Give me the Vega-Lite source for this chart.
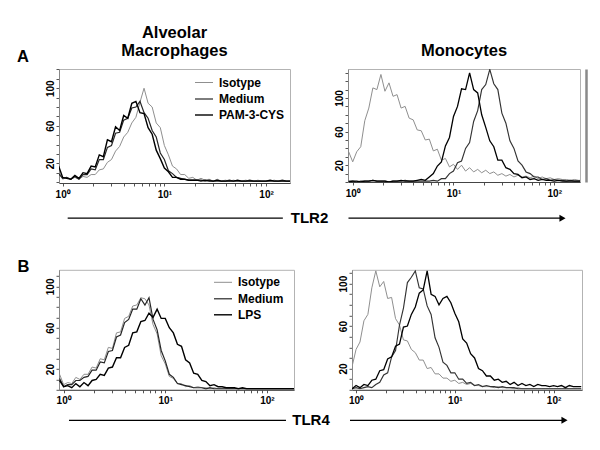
{
  "$schema": "https://vega.github.io/schema/vega-lite/v6.json",
  "padding": {"left": 16, "top": 24, "right": 5, "bottom": 5},
  "background": "white",
  "config": {
    "font": "Liberation Sans",
    "view": {"stroke": "#b3b3b3", "strokeWidth": 1},
    "axis": {"grid": false, "labelFont": "Liberation Sans", "labelFontSize": 10, "labelFontWeight": "bold", "labelColor": "#000", "tickSize": 3, "tickColor": "#555", "domainColor": "#888"},
    "title": {"font": "Liberation Sans", "fontSize": 16.5, "fontWeight": "bold", "color": "#000", "frame": "group", "lineHeight": 18, "anchor": "middle"},
    "legend": {"labelFont": "Liberation Sans", "labelFontSize": 12, "labelFontWeight": "bold", "labelColor": "#000", "symbolType": "stroke", "symbolSize": 324, "rowPadding": 0, "labelOffset": 5, "padding": 0}
  },
  "datasets": {
    "AL": [{
      "x": [0.912,1,1.096,1.202,1.318,1.445,1.585,1.738,1.905,2.089,2.291,2.512,2.754,3.02,3.311,3.631,3.981,4.365,4.786,5.248,5.754,6.31,6.918,7.586,8.318,9.12,10,10.96,12.02,13.18,14.45,15.85,17.38,19.05,20.89,22.91,25.12,27.54,30.2,33.11,36.31,39.81,43.65,47.86,52.48,57.54,63.1,69.18,75.86,83.18,91.2,100,109.6,120.2,131.8,144.5,158.5,173.8,190.5],
      "Isotype": [12,3,5,3,5,3,6,5,8,8,13,14,21,24,33,38,48,53,63,69,85,100,84,80,63,58,39,29,17,14,8,8,4,5,2,4,2,3,1,3,1,2,1,2,1,1,2,1,1,2,1,1,1,2,1,1,1,1,1],
      "Medium": [9,4,5,3,6,3,8,8,14,13,24,24,37,39,52,53,66,68,79,80,86,74,68,55,48,31,24,12,9,5,4,3,2,2,2,2,1,2,1,1,1,1,2,1,1,1,1,2,1,1,1,1,1,1,1,2,1,1,1],
      "PAM-3-CYS": [17,5,4,3,7,4,10,9,17,16,29,27,45,43,59,55,71,68,84,86,74,73,58,51,34,25,15,11,5,5,3,3,2,2,2,1,2,1,1,2,1,1,1,1,2,1,1,1,1,1,1,1,2,1,1,1,1,1,1]
    }],
    "AR": [{
      "x": [0.912,1,1.096,1.202,1.318,1.445,1.585,1.738,1.905,2.089,2.291,2.512,2.754,3.02,3.311,3.631,3.981,4.365,4.786,5.248,5.754,6.31,6.918,7.586,8.318,9.12,10,10.96,12.02,13.18,14.45,15.85,17.38,19.05,20.89,22.91,25.12,27.54,30.2,33.11,36.31,39.81,43.65,47.86,52.48,57.54,63.1,69.18,75.86,83.18,91.2,100,109.6,120.2,131.8,144.5,158.5,173.8,190.5],
      "Isotype": [36,24,36,42,73,88,112,110,128,108,118,102,104,88,90,76,74,62,61,50,51,37,39,26,28,18,21,15,20,13,17,12,15,11,14,10,12,8,10,7,9,6,8,6,7,5,7,4,6,4,5,3,4,3,3,2,3,2,2],
      "Medium": [1,1,0,1,1,1,2,1,1,1,0,1,1,1,2,1,1,1,1,1,1,2,1,4,4,10,13,23,25,40,47,72,85,110,116,134,117,110,82,70,49,40,25,20,12,10,6,6,3,4,2,3,2,2,1,2,1,1,1],
      "PAM-3-CYS": [0,1,1,0,1,1,2,1,1,1,0,1,1,2,1,1,1,2,3,2,6,10,19,24,43,53,78,90,111,110,130,110,106,80,65,49,42,26,26,17,15,10,9,5,6,3,4,2,3,2,2,1,2,1,1,1,1,1,1]
    }],
    "BL": [{
      "x": [0.912,1,1.096,1.202,1.318,1.445,1.585,1.738,1.905,2.089,2.291,2.512,2.754,3.02,3.311,3.631,3.981,4.365,4.786,5.248,5.754,6.31,6.918,7.586,8.318,9.12,10,10.96,12.02,13.18,14.45,15.85,17.38,19.05,20.89,22.91,25.12,27.54,30.2,33.11,36.31,39.81,43.65,47.86,52.48,57.54,63.1,69.18,75.86,83.18,91.2,100,109.6,120.2,131.8,144.5,158.5,173.8,190.5],
      "Isotype": [15,5,7,6,12,10,15,15,22,21,30,29,41,40,55,56,69,71,81,82,89,88,82,63,54,33,25,13,11,6,6,3,4,2,3,2,2,1,2,1,1,1,1,1,1,1,1,1,1,1,1,1,1,1,1,1,1,1,1],
      "Medium": [11,3,5,5,9,9,12,13,19,19,27,26,37,38,51,53,65,68,78,78,88,82,89,68,58,38,28,15,12,6,5,4,3,2,2,2,1,2,1,1,1,1,1,1,1,1,1,1,1,1,1,1,1,1,1,1,1,1,1],
      "LPS": [9,3,4,2,6,3,7,4,9,10,15,14,21,22,31,31,41,43,55,56,66,67,74,70,78,69,69,60,55,44,42,29,26,16,15,9,8,4,5,3,3,2,2,2,1,2,1,1,1,1,1,1,1,1,1,1,1,1,1]
    }],
    "BR": [{
      "x": [0.912,1,1.096,1.202,1.318,1.445,1.585,1.738,1.905,2.089,2.291,2.512,2.754,3.02,3.311,3.631,3.981,4.365,4.786,5.248,5.754,6.31,6.918,7.586,8.318,9.12,10,10.96,12.02,13.18,14.45,15.85,17.38,19.05,20.89,22.91,25.12,27.54,30.2,33.11,36.31,39.81,43.65,47.86,52.48,57.54,63.1,69.18,75.86,83.18,91.2,100,109.6,120.2,131.8,144.5,158.5,173.8,190.5],
      "Isotype": [22,38,45,65,71,96,112,97,102,86,87,67,61,47,46,38,35,28,28,20,21,15,15,11,11,8,9,6,7,5,6,4,4,3,3,3,2,3,2,2,2,1,2,1,1,1,1,1,1,1,1,1,1,1,1,1,1,1,1],
      "Medium": [1,2,1,2,3,2,5,7,14,16,31,37,61,77,101,106,112,96,95,79,71,49,40,26,23,16,16,10,10,6,7,4,5,3,4,3,3,2,3,2,2,2,1,1,1,1,1,1,1,1,1,1,1,1,1,1,1,1,1],
      "LPS": [1,4,2,5,4,9,10,18,19,29,31,41,43,59,60,71,78,91,94,112,90,88,80,86,88,82,72,64,48,44,34,30,20,18,13,13,9,10,7,8,5,7,4,6,4,5,3,5,4,4,3,4,3,4,2,4,3,3,3]
    }]
  },
  "vconcat": [
    {
      "vconcat": [
        {
          "hconcat": [
            {
              "width": 231, "height": 114,
              "title": {"text": ["Alveolar", "Macrophages"], "offset": -11.5},
              "data": {"name": "AL"},
              "transform": [
                {"flatten": ["x", "Isotype", "Medium", "PAM-3-CYS"]},
                {"fold": ["Isotype", "Medium", "PAM-3-CYS"], "as": ["series", "count"]}
              ],
              "mark": {"type": "line", "clip": true},
              "encoding": {
                "x": {"field": "x", "type": "quantitative", "scale": {"type": "log", "domain": [0.92, 172], "nice": false},
                  "axis": {"values": [1,2,3,4,5,6,7,8,9,10,20,30,40,50,60,70,80,90,100], "labelExpr": "datum.value == 1 ? '10⁰' : datum.value == 10 ? '10¹' : datum.value == 100 ? '10²' : ''", "labelFlush": false, "labelOverlap": false, "title": null, "domainColor": "#444", "labelPadding": 3}},
                "y": {"field": "count", "type": "quantitative", "scale": {"domain": [-1, 120.5], "nice": false, "zero": false},
                  "axis": {"values": [0,10,20,30,40,50,60,70,80,90,100,110,120], "labelExpr": "datum.value == 20 || datum.value == 60 || datum.value == 100 ? datum.label : ''", "labelAngle": -90, "labelAlign": "center", "labelBaseline": "bottom", "labelPadding": 1,
                    "title": "A", "titleAngle": 0, "titleX": -36.5, "titleY": -8, "titleAlign": "center", "titleBaseline": "alphabetic", "titleFontSize": 16.5, "titleFontWeight": "bold", "titleColor": "#000", "titleFont": "Liberation Sans"}},
                "color": {"field": "series", "type": "nominal", "scale": {"domain": ["Isotype", "Medium", "PAM-3-CYS"], "range": ["#8f8f8f", "#262626", "#000000"]},
                  "legend": {"orient": "none", "legendX": 135, "legendY": 4, "title": null}},
                "strokeWidth": {"field": "series", "type": "nominal", "scale": {"domain": ["Isotype", "Medium", "PAM-3-CYS"], "range": [1, 1.4, 3]},
                  "legend": {"orient": "none", "legendX": 135, "legendY": 4, "title": null}}
              }
            },
            {
              "width": 232, "height": 113,
              "title": {"text": "Monocytes", "offset": 9.5},
              "data": {"name": "AR"},
              "transform": [
                {"flatten": ["x", "Isotype", "Medium", "PAM-3-CYS"]},
                {"fold": ["Isotype", "Medium", "PAM-3-CYS"], "as": ["series", "count"]}
              ],
              "layer": [
                {
                  "mark": {"type": "line", "clip": true},
                  "encoding": {
                    "x": {"field": "x", "type": "quantitative", "scale": {"type": "log", "domain": [0.898, 180], "nice": false},
                      "axis": {"values": [1,2,3,4,5,6,7,8,9,10,20,30,40,50,60,70,80,90,100], "labelExpr": "datum.value == 1 ? '10⁰' : datum.value == 10 ? '10¹' : datum.value == 100 ? '10²' : ''", "labelFlush": false, "labelOverlap": false, "title": null, "domainColor": "#444", "labelPadding": 3}},
                    "y": {"field": "count", "type": "quantitative", "scale": {"domain": [0, 134.5], "nice": false},
                      "axis": {"values": [0,10,20,30,40,50,60,70,80,90,100,110,120,130], "labelExpr": "datum.value == 20 || datum.value == 60 || datum.value == 100 ? datum.label : ''", "labelAngle": -90, "labelAlign": "center", "labelBaseline": "bottom", "labelPadding": 1, "title": null}},
                    "color": {"field": "series", "type": "nominal", "scale": {"domain": ["Isotype", "Medium", "PAM-3-CYS"], "range": ["#8f8f8f", "#333333", "#000000"]}, "legend": null},
                    "strokeWidth": {"field": "series", "type": "nominal", "scale": {"domain": ["Isotype", "Medium", "PAM-3-CYS"], "range": [1, 1.3, 3]}, "legend": null}
                  }
                },
                {
                  "mark": {"type": "line", "clip": true, "opacity": 0},
                  "encoding": {
                    "x": {"field": "x", "type": "quantitative"},
                    "y": {"field": "count", "type": "quantitative",
                      "axis": {"orient": "right", "labels": false, "ticks": false, "domain": true, "domainColor": "#8a8a8a", "domainWidth": 2.5, "offset": 6, "title": null}},
                    "detail": {"field": "series"}
                  }
                }
              ],
              "resolve": {"axis": {"y": "independent"}}
            }
          ],
          "spacing": 58, "bounds": "flush",
          "resolve": {"scale": {"color": "independent", "strokeWidth": "independent"}, "legend": {"color": "independent", "strokeWidth": "independent"}}
        },
        {
          "width": 523, "height": 2,
          "view": {"stroke": null},
          "layer": [
            {
              "data": {"values": [{"a": 0.0166, "b": 0.428}, {"a": 0.5535, "b": 0.958}]},
              "mark": {"type": "rule", "color": "#000", "strokeWidth": 1.3},
              "encoding": {"x": {"field": "a", "type": "quantitative", "scale": {"domain": [0, 1], "nice": false}, "axis": null}, "x2": {"field": "b"}}
            },
            {
              "data": {"values": [{"tip": 0.9627}]},
              "mark": {"type": "point", "shape": "triangle-right", "filled": true, "color": "#000", "size": 50, "opacity": 1},
              "encoding": {"x": {"field": "tip", "type": "quantitative", "scale": {"domain": [0, 1], "nice": false}, "axis": null}}
            },
            {
              "data": {"values": [{"label": "TLR2", "p": 0.479}]},
              "mark": {"type": "text", "fontSize": 15, "fontWeight": "bold", "color": "#000", "baseline": "middle", "font": "Liberation Sans"},
              "encoding": {"x": {"field": "p", "type": "quantitative", "scale": {"domain": [0, 1], "nice": false}, "axis": null}, "text": {"field": "label"}}
            }
          ]
        }
      ],
      "spacing": 11.2,
      "resolve": {"scale": {"color": "independent", "strokeWidth": "independent"}, "legend": {"color": "independent", "strokeWidth": "independent"}}
    },
    {
      "vconcat": [
        {
          "hconcat": [
            {
              "width": 235, "height": 120,
              "data": {"name": "BL"},
              "transform": [
                {"flatten": ["x", "Isotype", "Medium", "LPS"]},
                {"fold": ["Isotype", "Medium", "LPS"], "as": ["series", "count"]}
              ],
              "mark": {"type": "line", "clip": true},
              "encoding": {
                "x": {"field": "x", "type": "quantitative", "scale": {"type": "log", "domain": [0.9, 185], "nice": false},
                  "axis": {"values": [1,2,3,4,5,6,7,8,9,10,20,30,40,50,60,70,80,90,100], "labelExpr": "datum.value == 1 ? '10⁰' : datum.value == 10 ? '10¹' : datum.value == 100 ? '10²' : ''", "labelFlush": false, "labelOverlap": false, "title": null, "domainColor": "#444", "labelPadding": 3}},
                "y": {"field": "count", "type": "quantitative", "scale": {"domain": [0, 116], "nice": false},
                  "axis": {"values": [0,10,20,30,40,50,60,70,80,90,100,110], "labelExpr": "datum.value == 20 || datum.value == 60 || datum.value == 100 ? datum.label : ''", "labelAngle": -90, "labelAlign": "center", "labelBaseline": "bottom", "labelPadding": 1,
                    "title": "B", "titleAngle": 0, "titleX": -36, "titleY": 2, "titleAlign": "center", "titleBaseline": "alphabetic", "titleFontSize": 16.5, "titleFontWeight": "bold", "titleColor": "#000", "titleFont": "Liberation Sans"}},
                "color": {"field": "series", "type": "nominal", "scale": {"domain": ["Isotype", "Medium", "LPS"], "range": ["#8f8f8f", "#262626", "#000000"]},
                  "legend": {"orient": "none", "legendX": 154, "legendY": 3, "title": null}},
                "strokeWidth": {"field": "series", "type": "nominal", "scale": {"domain": ["Isotype", "Medium", "LPS"], "range": [1, 1.4, 3]},
                  "legend": {"orient": "none", "legendX": 154, "legendY": 3, "title": null}}
              }
            },
            {
              "width": 230, "height": 120,
              "data": {"name": "BR"},
              "transform": [
                {"flatten": ["x", "Isotype", "Medium", "LPS"]},
                {"fold": ["Isotype", "Medium", "LPS"], "as": ["series", "count"]}
              ],
              "mark": {"type": "line", "clip": true},
              "encoding": {
                "x": {"field": "x", "type": "quantitative", "scale": {"type": "log", "domain": [0.91, 194], "nice": false},
                  "axis": {"values": [1,2,3,4,5,6,7,8,9,10,20,30,40,50,60,70,80,90,100], "labelExpr": "datum.value == 1 ? '10⁰' : datum.value == 10 ? '10¹' : datum.value == 100 ? '10²' : ''", "labelFlush": false, "labelOverlap": false, "title": null, "domainColor": "#444", "labelPadding": 3}},
                "y": {"field": "count", "type": "quantitative", "scale": {"domain": [0, 113], "nice": false},
                  "axis": {"values": [0,10,20,30,40,50,60,70,80,90,100,110], "labelExpr": "datum.value == 20 || datum.value == 60 || datum.value == 100 ? datum.label : ''", "labelAngle": -90, "labelAlign": "center", "labelBaseline": "bottom", "labelPadding": 1, "title": null}},
                "color": {"field": "series", "type": "nominal", "scale": {"domain": ["Isotype", "Medium", "LPS"], "range": ["#8f8f8f", "#333333", "#000000"]}, "legend": null},
                "strokeWidth": {"field": "series", "type": "nominal", "scale": {"domain": ["Isotype", "Medium", "LPS"], "range": [1, 1.3, 3]}, "legend": null}
              }
            }
          ],
          "spacing": 58, "bounds": "flush",
          "resolve": {"scale": {"color": "independent", "strokeWidth": "independent"}, "legend": {"color": "independent", "strokeWidth": "independent"}}
        },
        {
          "width": 523, "height": 2,
          "view": {"stroke": null},
          "layer": [
            {
              "data": {"values": [{"a": 0.0191, "b": 0.434}, {"a": 0.5564, "b": 0.962}]},
              "mark": {"type": "rule", "color": "#000", "strokeWidth": 1.3},
              "encoding": {"x": {"field": "a", "type": "quantitative", "scale": {"domain": [0, 1], "nice": false}, "axis": null}, "x2": {"field": "b"}}
            },
            {
              "data": {"values": [{"tip": 0.9665}]},
              "mark": {"type": "point", "shape": "triangle-right", "filled": true, "color": "#000", "size": 50, "opacity": 1},
              "encoding": {"x": {"field": "tip", "type": "quantitative", "scale": {"domain": [0, 1], "nice": false}, "axis": null}}
            },
            {
              "data": {"values": [{"label": "TLR4", "p": 0.4818}]},
              "mark": {"type": "text", "fontSize": 15, "fontWeight": "bold", "color": "#000", "baseline": "middle", "font": "Liberation Sans"},
              "encoding": {"x": {"field": "p", "type": "quantitative", "scale": {"domain": [0, 1], "nice": false}, "axis": null}, "text": {"field": "label"}}
            }
          ]
        }
      ],
      "spacing": 6.5,
      "resolve": {"scale": {"color": "independent", "strokeWidth": "independent"}, "legend": {"color": "independent", "strokeWidth": "independent"}}
    }
  ],
  "spacing": 30.8,
  "resolve": {"scale": {"color": "independent", "strokeWidth": "independent"}, "legend": {"color": "independent", "strokeWidth": "independent"}}
}
